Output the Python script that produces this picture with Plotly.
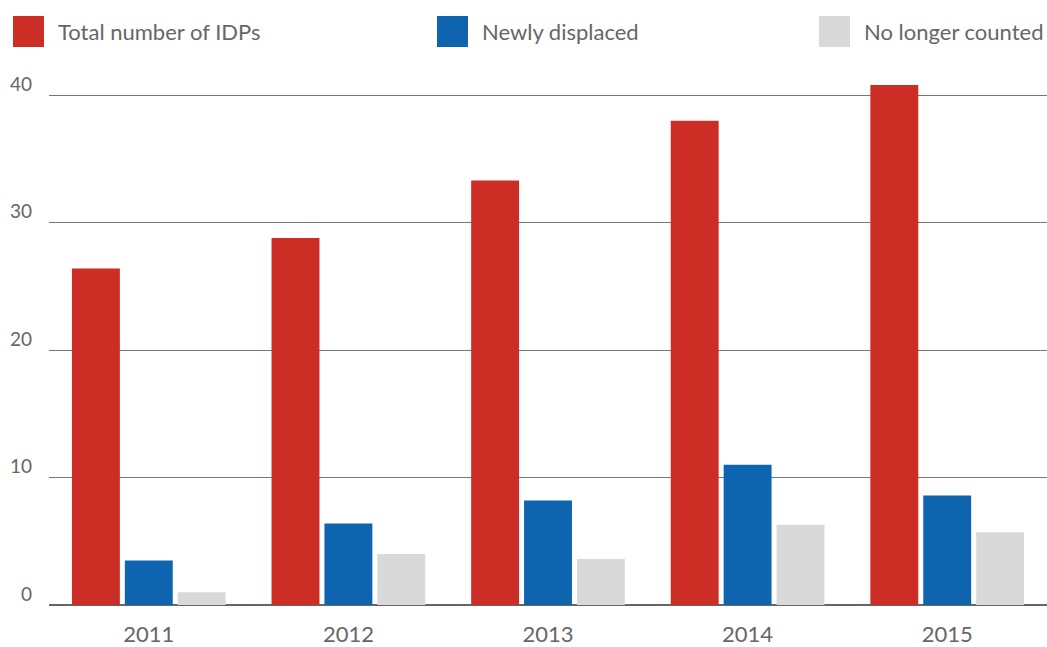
import plotly.graph_objects as go

years = ["2011", "2012", "2013", "2014", "2015"]
total_idps = [26.4, 28.8, 33.3, 38.0, 40.8]
newly_displaced = [3.5, 6.4, 8.2, 11.0, 8.6]
no_longer_counted = [1.0, 4.0, 3.6, 6.3, 5.7]

series_names = ["Total number of IDPs", "Newly displaced", "No longer counted"]
colors = ["#CC2E25", "#0E64AE", "#D9D9D9"]

W, H = 1047, 647
L, R, T, B = 49, 0, 57, 42
PW, PH = W - L - R, H - T - B

def px_x(x):
    return (x - L) / PW

def px_y(y):
    return (H - B - y) / PH

fig = go.Figure()
for name, vals, col in zip(series_names, [total_idps, newly_displaced, no_longer_counted], colors):
    fig.add_trace(go.Bar(x=years, y=vals, name=name, marker=dict(color=col, line=dict(width=0)),
                         showlegend=False))

# custom legend (large swatches)
legend_items = [
    (13, 44, 58),
    (437, 468, 482),
    (819, 850, 864),
]
shapes = []
annotations = []
for (x0, x1, tx), name, col in zip(legend_items, series_names, colors):
    shapes.append(dict(type="rect", xref="paper", yref="paper",
                       x0=px_x(x0), x1=px_x(x1), y0=px_y(47), y1=px_y(16),
                       fillcolor=col, line=dict(width=0)))
    annotations.append(dict(xref="paper", yref="paper", x=px_x(tx - 2), y=px_y(32),
                            xanchor="left", yanchor="middle", text=name, showarrow=False,
                            font=dict(family="Lato, Open Sans, sans-serif", size=22, color="#666666")))

fig.update_layout(
    width=W, height=H,
    margin=dict(l=L, r=R, t=T, b=B, pad=0, autoexpand=False),
    paper_bgcolor="white", plot_bgcolor="white",
    barmode="group", bargap=0.205, bargroupgap=0.094,
    font=dict(family="Lato, Open Sans, sans-serif", color="#666666"),
    shapes=shapes, annotations=annotations,
    xaxis=dict(showgrid=False, showline=False, ticks="", zeroline=False, automargin=False,
               tickfont=dict(size=22, color="#666666"), ticklabelstandoff=14),
    yaxis=dict(range=[0, 43], tickvals=[0, 10, 20, 30, 40], showgrid=True, gridcolor="#777777",
               gridwidth=1, zeroline=True, zerolinecolor="#666666", zerolinewidth=2,
               automargin=False, showline=False, ticks="", tickfont=dict(size=19, color="#666666"),
               ticklabelstandoff=16, ticklabelshift=-11),
)

fig.write_html("out.html", config={"displayModeBar": False})
with open("out.html", "r", encoding="utf-8") as f:
    html = f.read()
html = html.replace("<body>", '<body style="margin:0;padding:0;overflow:hidden">', 1)
with open("out.html", "w", encoding="utf-8") as f:
    f.write(html)
